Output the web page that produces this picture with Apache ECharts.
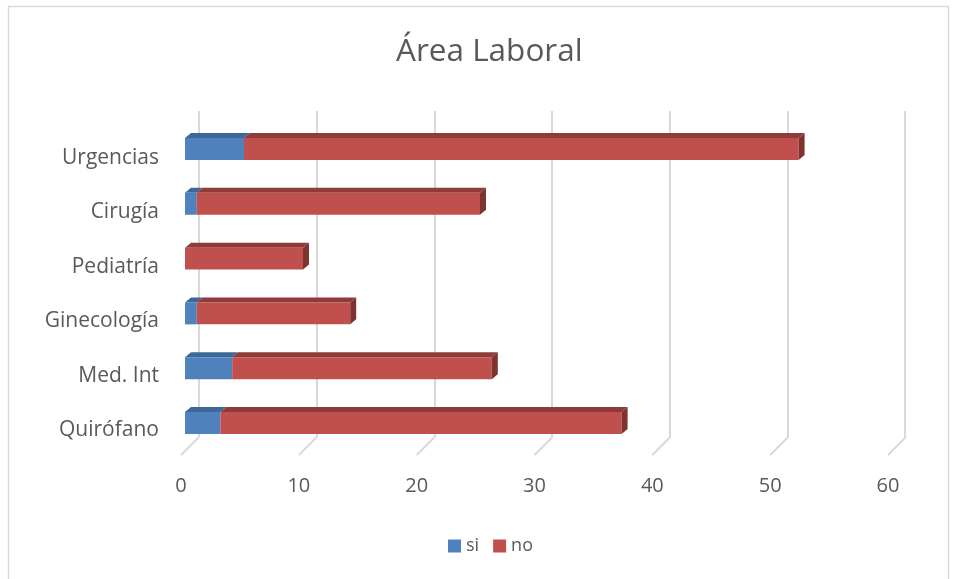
<!DOCTYPE html>
<html>
<head>
<meta charset="utf-8">
<title>Área Laboral</title>
<script src="https://cdn.jsdelivr.net/npm/echarts@6/dist/echarts.min.js"></script>
<style>
  html, body { margin: 0; padding: 0; background: #ffffff; }
  #chart { width: 956px; height: 579px; }
</style>
</head>
<body>
<div id="chart"></div>
<script>
// Work areas and answers (si / no) per area
const categories = ['Urgencias', 'Cirugía', 'Pediatría', 'Ginecología', 'Med. Int', 'Quirófano'];
const siValues = [5, 1, 0, 1, 4, 3];
const noValues = [47, 24, 10, 13, 22, 34];
const axisMin = 0;
const axisMax = 60;
const axisStep = 10;
const tickValues = [0, 10, 20, 30, 40, 50, 60];

const FONT = '"Open Sans", "Noto Sans", sans-serif';
const TEXT = '#595959';
const GRID_LINE = '#d9d9d9';

const palette = {
  si: { front: '#4f81bd', top: '#3d6897', side: '#37608c' },
  no: { front: '#c0504d', top: '#8f3b39', side: '#7f3331' }
};

// depth of the extruded bars, in pixels
const DEPTH_X = 6;
const DEPTH_Y = 5;

function barRenderer(colors) {
  return function (params, api) {
    const start = api.value(0);
    const end = api.value(1);
    const cat = api.value(2);
    const isEnd = api.value(3) === 1;
    if (end <= start) return null;
    const a = api.coord([start, cat]);
    const b = api.coord([end, cat]);
    const h = api.size([0, 1])[1] * 0.4;
    const y0 = a[1] - h / 2;
    const x0 = a[0];
    const x1 = b[0];
    const children = [
      {
        type: 'polygon',
        shape: { points: [[x0, y0], [x1, y0], [x1 + DEPTH_X, y0 - DEPTH_Y], [x0 + DEPTH_X, y0 - DEPTH_Y]] },
        style: { fill: colors.top }
      },
      {
        type: 'rect',
        shape: { x: x0, y: y0, width: x1 - x0, height: h },
        style: { fill: colors.front }
      }
    ];
    if (isEnd) {
      children.push({
        type: 'polygon',
        shape: { points: [[x1, y0], [x1 + DEPTH_X, y0 - DEPTH_Y], [x1 + DEPTH_X, y0 + h - DEPTH_Y], [x1, y0 + h]] },
        style: { fill: colors.side }
      });
    }
    return { type: 'group', children: children };
  };
}

// stacked segments: [start, end, category index, draws the right end face]
const siData = categories.map((c, i) => [0, siValues[i], i, noValues[i] === 0 ? 1 : 0]);
const noData = categories.map((c, i) => [siValues[i], siValues[i] + noValues[i], i, 1]);
const floorData = tickValues.map(v => [v, 0]);

const chart = echarts.init(document.getElementById('chart'), null, { renderer: 'canvas' });

chart.setOption({
  animation: false,
  backgroundColor: '#ffffff',
  title: {
    text: 'Área Laboral',
    left: 396,
    top: 36,
    padding: 0,
    textStyle: { fontFamily: FONT, fontSize: 31.5, fontWeight: 'normal', color: TEXT }
  },
  legend: {
    left: 448,
    top: 537,
    padding: 0,
    itemWidth: 13,
    itemHeight: 13,
    itemGap: 14,
    icon: 'rect',
    textStyle: { fontFamily: FONT, fontSize: 18, color: TEXT },
    data: [
      { name: 'si', itemStyle: { color: palette.si.front } },
      { name: 'no', itemStyle: { color: palette.no.front } }
    ]
  },
  graphic: [
    {
      type: 'rect',
      shape: { x: 8.5, y: 6.5, width: 940, height: 620 },
      style: { fill: 'none', stroke: GRID_LINE, lineWidth: 1.5 },
      silent: true,
      z: -10
    }
  ],
  grid: [
    // back wall
    { left: 199, width: 706, top: 111, height: 326 },
    // bars
    { left: 185, width: 708, top: 121.6, height: 328.8 },
    // floor edge and value labels
    { left: 181, width: 707, top: 437, height: 18 },
    // category labels
    { left: 170, width: 700, top: 130.8, height: 326.4 }
  ],
  xAxis: [
    {
      gridIndex: 0, type: 'value', min: axisMin, max: axisMax, interval: axisStep,
      axisLine: { show: false }, axisTick: { show: false }, axisLabel: { show: false },
      splitLine: { show: true, lineStyle: { color: GRID_LINE, width: 2 } }
    },
    {
      gridIndex: 1, type: 'value', min: axisMin, max: axisMax, interval: axisStep,
      show: false
    },
    {
      gridIndex: 2, type: 'value', min: axisMin, max: axisMax, interval: axisStep,
      axisLine: { show: false }, axisTick: { show: false }, splitLine: { show: false },
      axisLabel: { margin: 21, fontFamily: FONT, fontSize: 20, color: TEXT }
    },
    {
      gridIndex: 3, type: 'value', min: axisMin, max: axisMax, show: false
    }
  ],
  yAxis: [
    { gridIndex: 0, type: 'value', min: 0, max: 1, show: false },
    { gridIndex: 1, type: 'category', data: categories, inverse: true, show: false },
    { gridIndex: 2, type: 'value', min: 0, max: 1, show: false },
    {
      gridIndex: 3, type: 'category', data: categories, inverse: true,
      axisLine: { show: false }, axisTick: { show: false }, splitLine: { show: false },
      axisLabel: { margin: 11, fontFamily: FONT, fontSize: 21, color: TEXT }
    }
  ],
  series: [
    {
      name: 'floor',
      type: 'custom',
      xAxisIndex: 2,
      yAxisIndex: 2,
      silent: true,
      z: 1,
      data: floorData,
      renderItem: function (params, api) {
        const front = api.coord([api.value(0), 0]);
        const back = api.coord([api.value(0), 1]);
        return {
          type: 'line',
          shape: { x1: front[0], y1: front[1], x2: back[0] + 18, y2: back[1] },
          style: { stroke: GRID_LINE, lineWidth: 2 }
        };
      }
    },
    {
      name: 'si',
      type: 'custom',
      xAxisIndex: 1,
      yAxisIndex: 1,
      z: 3,
      itemStyle: { color: palette.si.front },
      data: siData,
      renderItem: barRenderer(palette.si)
    },
    {
      name: 'no',
      type: 'custom',
      xAxisIndex: 1,
      yAxisIndex: 1,
      z: 3,
      itemStyle: { color: palette.no.front },
      data: noData,
      renderItem: barRenderer(palette.no)
    }
  ]
});
</script>
</body>
</html>
